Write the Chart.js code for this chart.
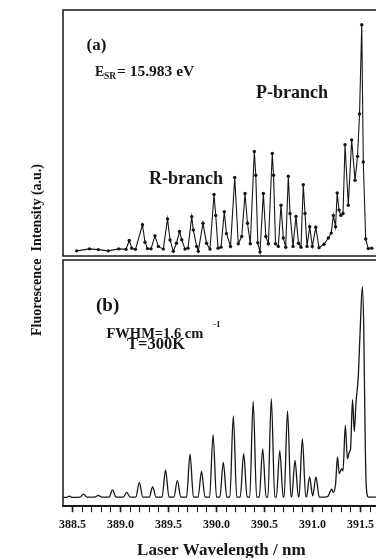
<!DOCTYPE html>
<html>
<head>
<meta charset="utf-8">
<script src="https://cdn.jsdelivr.net/npm/chart.js@4.4.1/dist/chart.umd.min.js"></script>
<style>
    html, body { margin: 0; padding: 0; background: #fff; }
    #wrap { position: relative; width: 376px; height: 558px; overflow: hidden; background: #fff; }
    #topChart { position: absolute; left: 0; top: 0; }
    #botChart { position: absolute; left: 0; top: 258px; }
    #ytitle {
        position: absolute; left: -63px; top: 242px; width: 200px; height: 16px;
        line-height: 16px; text-align: center; white-space: pre;
        font: bold 14px "Liberation Serif", serif; color: #111;
        transform: rotate(-90deg);
    }
</style>
</head>
<body>
<div id="wrap">
    <canvas id="topChart" width="392" height="260"></canvas>
    <canvas id="botChart" width="392" height="304"></canvas>
    <div id="ytitle">Fluorescence  Intensity (a.u.)</div>
</div>
<script>
var topWl = [388.544, 388.677, 388.769, 388.873, 388.981, 389.057, 389.091, 389.117, 389.156, 389.229,
    389.255, 389.281, 389.318, 389.359, 389.394, 389.446, 389.490, 389.516, 389.550, 389.583,
    389.615, 389.638, 389.672, 389.703, 389.742, 389.758, 389.794, 389.810, 389.859, 389.896,
    389.932, 389.974, 389.992, 390.016, 390.047, 390.081, 390.104, 390.146, 390.190, 390.227,
    390.263, 390.297, 390.323, 390.352, 390.394, 390.409, 390.430, 390.453, 390.488, 390.514,
    390.540, 390.581, 390.594, 390.615, 390.644, 390.672, 390.696, 390.721, 390.748, 390.766,
    390.797, 390.828, 390.854, 390.880, 390.904, 390.922, 390.943, 390.971, 390.998, 391.034,
    391.068, 391.120, 391.165, 391.195, 391.217, 391.240, 391.257, 391.276, 391.295, 391.318,
    391.339, 391.373, 391.408, 391.443, 391.469, 391.490, 391.513, 391.529, 391.554, 391.581, 391.617];
var topInt = [2.1, 2.9, 2.6, 2.1, 2.9, 2.7, 6.3, 3.2, 2.7, 12.7,
    5.6, 3.0, 2.9, 8.2, 3.9, 2.8, 15.1, 6.5, 1.9, 5.2,
    10.0, 6.6, 2.8, 3.2, 16.0, 10.6, 3.9, 1.9, 13.3, 5.2,
    2.8, 25.0, 16.5, 3.2, 3.6, 18.0, 9.1, 3.9, 31.9, 5.0,
    7.9, 25.4, 13.3, 5.0, 42.5, 32.8, 5.4, 1.6, 25.4, 7.9,
    5.0, 41.7, 32.8, 5.0, 3.9, 20.6, 7.3, 3.6, 32.4, 17.3,
    3.9, 16.1, 5.2, 3.6, 29.0, 17.3, 3.9, 11.9, 3.9, 11.7,
    3.4, 4.8, 7.3, 9.3, 16.5, 11.9, 25.6, 18.7, 16.5, 17.3,
    45.2, 20.6, 47.2, 30.8, 40.5, 57.7, 94.0, 38.2, 6.9, 3.0, 3.2];

// (b) simulated spectrum (peak tops, feet and valleys)
var botWl = [388.406, 388.440, 388.467, 388.494, 388.579, 388.615, 388.651, 388.733, 388.769, 388.805,
    388.881, 388.917, 388.953, 389.029, 389.065, 389.101, 389.160, 389.196, 389.232, 389.299,
    389.335, 389.371, 389.433, 389.469, 389.505, 389.556, 389.592, 389.628, 389.688, 389.724,
    389.760, 389.808, 389.844, 389.880, 389.928, 389.964, 390.000, 390.035, 390.071, 390.107,
    390.139, 390.175, 390.211, 390.247, 390.283, 390.319, 390.346, 390.382, 390.418, 390.445,
    390.481, 390.517, 390.535, 390.571, 390.607, 390.623, 390.659, 390.695, 390.704, 390.740,
    390.776, 390.783, 390.818, 390.853, 390.860, 390.894, 390.930, 390.938, 390.969, 391.002,
    391.036, 391.070, 391.130, 391.161, 391.200, 391.217, 391.240, 391.260, 391.279, 391.304,
    391.318, 391.342, 391.364, 391.383, 391.396, 391.417, 391.435, 391.453, 391.477, 391.495,
    391.519, 391.534, 391.547, 391.560, 391.583, 391.700];
var botInt = [3.6, 3.6, 4.1, 3.6, 3.7, 4.9, 3.7, 3.7, 4.4, 3.7,
    3.7, 6.6, 3.7, 3.7, 5.6, 3.7, 3.7, 9.7, 3.7, 3.7,
    7.8, 3.7, 3.7, 14.7, 3.7, 3.7, 10.4, 3.7, 3.7, 21.1,
    3.7, 3.7, 14.1, 3.7, 3.7, 29.1, 3.7, 3.7, 17.8, 3.7,
    3.7, 36.7, 3.7, 3.7, 21.3, 3.7, 3.7, 42.7, 3.7, 3.7,
    23.3, 3.7, 3.7, 43.7, 3.7, 3.7, 22.5, 3.7, 3.7, 38.7,
    3.8, 3.8, 18.6, 3.8, 3.8, 27.3, 3.8, 3.8, 11.9, 4.2,
    11.9, 3.7, 3.7, 4.0, 6.9, 5.6, 8.8, 20.0, 13.2, 15.3,
    14.4, 32.8, 19.2, 22.0, 23.2, 43.3, 30.4, 42.0, 52.8, 70.0,
    89.2, 72.0, 32.0, 8.0, 3.7, 3.7];

var xMin = 388.401;
var xMax = 391.7;
var ink = '#161616';

function toXY(xs, ys) {
    return xs.map(function (x, i) { return { x: x, y: ys[i] }; });
}

function isMajor(v) {
    return Math.abs(v * 2 - Math.round(v * 2)) < 1e-6;
}

// frame + text labels
var notesPlugin = {
    id: 'notes',
    afterDraw: function (chart, args, opts) {
        var ctx = chart.ctx;
        var a = chart.chartArea;
        ctx.save();
        ctx.strokeStyle = ink;
        ctx.lineWidth = 1.5;
        ctx.strokeRect(a.left, a.top, a.right - a.left, a.bottom - a.top);
        ctx.fillStyle = ink;
        ctx.textAlign = 'left';
        ctx.textBaseline = 'alphabetic';
        (opts.items || []).forEach(function (t) {
            ctx.font = 'bold ' + t.size + 'px "Liberation Serif", serif';
            ctx.fillText(t.text, t.x, t.y);
        });
        ctx.restore();
    }
};

Chart.defaults.font.family = '"Liberation Serif", serif';
Chart.defaults.color = ink;

// Top panel
new Chart("topChart", {
    type: 'line',
    data: {
        datasets: [{
            data: toXY(topWl, topInt),
            borderColor: ink,
            borderWidth: 1.1,
            pointRadius: 1.7,
            pointBackgroundColor: ink,
            pointBorderWidth: 0,
            tension: 0
        }]
    },
    options: {
        responsive: false,
        animation: false,
        layout: { padding: { left: 63, right: 12.3, top: 10, bottom: 2 } },
        scales: {
            x: { type: 'linear', min: xMin, max: xMax, display: false },
            y: { min: 0, max: 100, display: false }
        },
        plugins: {
            legend: { display: false },
            tooltip: { enabled: false },
            notes: {
                items: [
                    { text: '(a)', x: 86.5, y: 50, size: 17 },
                    { text: 'E', x: 95, y: 76, size: 14 },
                    { text: 'SR', x: 104, y: 79, size: 9.5 },
                    { text: '= 15.983 eV', x: 117, y: 76, size: 15.5 },
                    { text: 'P-branch', x: 256, y: 98, size: 18 },
                    { text: 'R-branch', x: 149, y: 183.5, size: 18 }
                ]
            }
        }
    },
    plugins: [notesPlugin]
});

// Bottom panel
new Chart("botChart", {
    type: 'line',
    data: {
        datasets: [{
            data: toXY(botWl, botInt),
            borderColor: ink,
            borderWidth: 1.3,
            pointRadius: 0,
            cubicInterpolationMode: 'monotone'
        }]
    },
    options: {
        responsive: false,
        animation: false,
        layout: { padding: { left: 63, right: 12.3, top: 2, bottom: 0 } },
        scales: {
            x: {
                type: 'linear', min: xMin, max: xMax,
                grid: {
                    drawOnChartArea: false,
                    tickLength: 6,
                    tickColor: ink,
                    tickWidth: function (c) { return c.tick && isMajor(c.tick.value) ? 1.6 : 1; }
                },
                border: { display: true, color: ink, width: 1.5 },
                ticks: {
                    stepSize: 0.1,
                    includeBounds: false,
                    autoSkip: false,
                    maxRotation: 0,
                    minRotation: 0,
                    padding: 6,
                    color: ink,
                    font: { size: 12, weight: 'bold' },
                    callback: function (v) { return isMajor(v) ? v.toFixed(1) : ''; }
                },
                title: {
                    display: true,
                    text: 'Laser Wavelength / nm',
                    color: ink,
                    font: { size: 17, weight: 'bold' },
                    padding: { top: 2, bottom: 1 }
                }
            },
            y: { min: 0, max: 100, display: false }
        },
        plugins: {
            legend: { display: false },
            tooltip: { enabled: false },
            notes: {
                items: [
                    { text: '(b)', x: 96, y: 52.5, size: 19 },
                    { text: 'FWHM=1.6 cm', x: 106.5, y: 80, size: 14.5 },
                    { text: '-1', x: 213, y: 68.5, size: 9 },
                    { text: 'T=300K', x: 127, y: 91, size: 16.5 }
                ]
            }
        }
    },
    plugins: [notesPlugin]
});
</script>
</body>
</html>
